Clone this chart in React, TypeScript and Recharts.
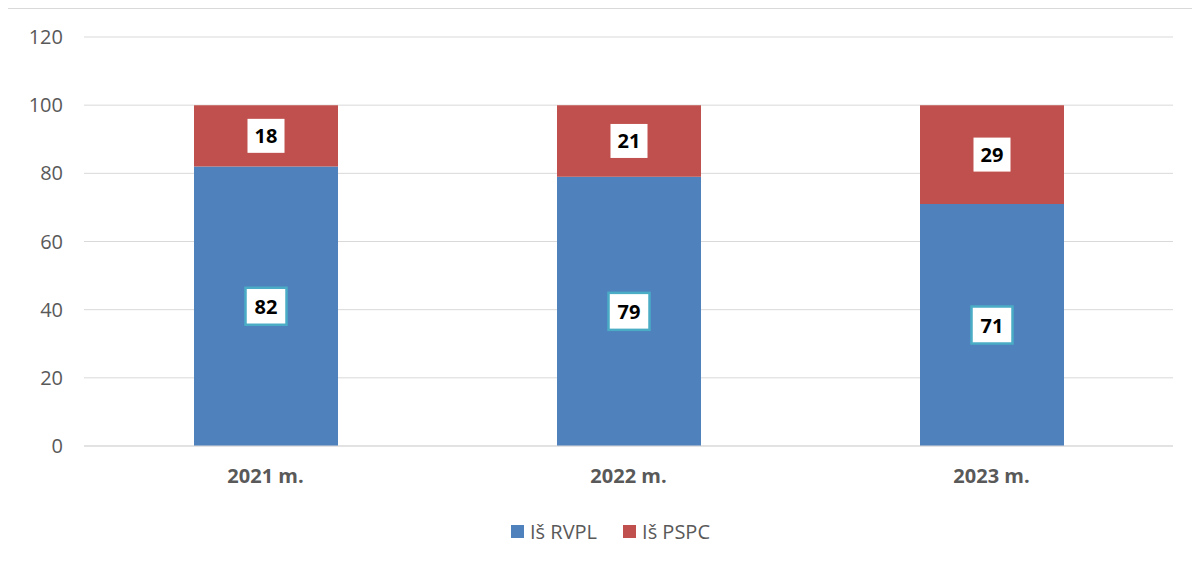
import { BarChart, Bar, XAxis, YAxis, CartesianGrid, Legend, LabelList } from 'recharts';

const years = ['2021 m.', '2022 m.', '2023 m.'];
const rvpl = [82, 79, 71];
const pspc = [18, 21, 29];
const yTicks = [0, 20, 40, 60, 80, 100, 120];

const BLUE = '#4f81bd';
const RED = '#c0504d';
const FONT = '"Open Sans", "Liberation Sans", sans-serif';

const data = years.map((year, i) => ({ year, rvpl: rvpl[i], pspc: pspc[i] }));

// white value box drawn in the middle of each stacked segment
function boxLabel(bordered: boolean) {
  return (props: any) => {
    const { x, y, width, height, value } = props;
    const cx = Number(x) + Number(width) / 2;
    const cy = Number(y) + Number(height) / 2;
    const w = bordered ? 41 : 37;
    const h = bordered ? 37 : 34;
    return (
      <g>
        <rect
          x={cx - w / 2}
          y={cy - h / 2}
          width={w}
          height={h}
          fill="#fff"
          stroke={bordered ? '#4bacc6' : 'none'}
          strokeWidth={bordered ? 2.5 : 0}
        />
        <text
          x={cx}
          y={cy}
          textAnchor="middle"
          dominantBaseline="central"
          fontFamily={FONT}
          fontWeight={700}
          fontSize={20}
          fill="#000"
        >
          {value}
        </text>
      </g>
    );
  };
}

function LegendContent() {
  const items = [
    { name: 'Iš RVPL', color: BLUE },
    { name: 'Iš PSPC', color: RED },
  ];
  return (
    <div style={{ display: 'flex', justifyContent: 'center', gap: 26, height: 24, paddingLeft: 40, fontFamily: FONT, fontSize: 20, color: '#595959' }}>
      {items.map(it => (
        <div key={it.name} style={{ display: 'flex', alignItems: 'center' }}>
          <span style={{ width: 13, height: 13, background: it.color, display: 'inline-block', marginRight: 6 }} />
          {it.name}
        </div>
      ))}
    </div>
  );
}

export default function App() {
  return (
    <div style={{ width: 1191, height: 555, borderLeft: '1px solid #d0d0d0', borderTop: '1px solid #d9d9d9', marginLeft: -1 }}>
      <BarChart
        width={1191}
        height={555}
        data={data}
        margin={{ top: 28, right: 26, left: 0, bottom: 21 }}
      >
        <CartesianGrid vertical={false} stroke="#d9d9d9" />
        <XAxis
          dataKey="year"
          axisLine={{ stroke: '#d9d9d9' }}
          tickLine={false}
          tickSize={0}
          tickMargin={23}
          height={73}
          tick={{ fontFamily: FONT, fontSize: 20, fontWeight: 700, fill: '#595959' }}
        />
        <YAxis
          domain={[0, 120]}
          ticks={yTicks}
          axisLine={false}
          tickLine={false}
          tickSize={0}
          tickMargin={21}
          width={76}
          tick={{ fontFamily: FONT, fontSize: 20, fill: '#595959' }}
        />
        <Legend verticalAlign="bottom" content={<LegendContent />} />
        <Bar dataKey="rvpl" stackId="a" fill={BLUE} barSize={144} isAnimationActive={false}>
          <LabelList dataKey="rvpl" content={boxLabel(true)} />
        </Bar>
        <Bar dataKey="pspc" stackId="a" fill={RED} barSize={144} isAnimationActive={false}>
          <LabelList dataKey="pspc" content={boxLabel(false)} />
        </Bar>
      </BarChart>
    </div>
  );
}
